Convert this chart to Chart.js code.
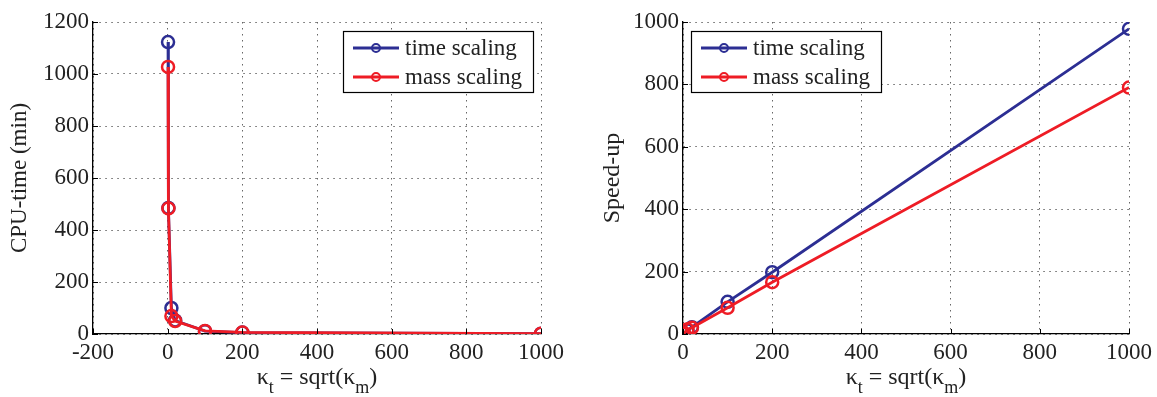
<!DOCTYPE html>
<html>
<head>
<meta charset="utf-8">
<script src="https://cdn.jsdelivr.net/npm/chart.js"></script>
<style>
  html, body { margin: 0; padding: 0; background: #fff; }
  .wrap { display: flex; width: 1157px; height: 397px; }
  .cell { position: relative; height: 397px; }
  #cellLeft { width: 578px; }
  #cellRight { width: 579px; }
</style>
</head>
<body>
<div class="wrap">
  <div class="cell" id="cellLeft"><canvas id="cpuChart"></canvas></div>
  <div class="cell" id="cellRight"><canvas id="speedChart"></canvas></div>
</div>
<script>
// ── Datos ─────────────────────────────────────────────────────────────────
const kappa = [1, 2, 10, 20, 100, 200, 1000];

const cpuTimeScaling = [1123, 485, 100, 52, 11, 5.6, 1.15];
const cpuMassScaling = [1027, 483, 69, 50, 12, 6.2, 1.3];

const speedTimeScaling = [1, 2.3, 11, 22, 103, 198, 978];
const speedMassScaling = [1, 2.1, 15, 20, 84, 166, 790];

const cpuXTicks = [-200, 0, 200, 400, 600, 800, 1000];
const cpuYTicks = [0, 200, 400, 600, 800, 1000, 1200];
const speedXTicks = [0, 200, 400, 600, 800, 1000];
const speedYTicks = [0, 200, 400, 600, 800, 1000];

const seriesLabels = ['time scaling', 'mass scaling'];
const BLUE = '#2c2e93';
const RED = '#ee1c25';
const FONT = '"Liberation Serif", "Times New Roman", serif';

const toPoints = (xs, ys) => xs.map((x, i) => ({ x, y: ys[i] }));

const makeDataset = (label, color, xs, ys, order) => ({
  label,
  data: toPoints(xs, ys),
  showLine: true,
  borderColor: color,
  borderWidth: 2.8,
  pointRadius: 6,
  pointHoverRadius: 6,
  pointBorderWidth: 2.5,
  pointBorderColor: color,
  pointBackgroundColor: 'rgba(0,0,0,0)',
  order
});

// ── Plugin: marcas interiores, leyenda con caja, título del eje x ─────────
const matlabLook = {
  id: 'matlabLook',
  afterDraw(chart, args, opts) {
    const { ctx, chartArea: a, scales } = chart;
    ctx.save();
    // ticks hacia dentro
    ctx.strokeStyle = '#000';
    ctx.lineWidth = 1;
    ctx.beginPath();
    scales.x.ticks.forEach(t => {
      const px = Math.round(scales.x.getPixelForValue(t.value)) + 0.5;
      ctx.moveTo(px, a.bottom);
      ctx.lineTo(px, a.bottom - 5);
    });
    scales.y.ticks.forEach(t => {
      const py = Math.round(scales.y.getPixelForValue(t.value)) + 0.5;
      ctx.moveTo(a.left, py);
      ctx.lineTo(a.left + 5, py);
    });
    ctx.stroke();

    // leyenda
    const lg = opts.legend;
    ctx.fillStyle = '#fff';
    ctx.fillRect(lg.x, lg.y, lg.w, lg.h);
    ctx.strokeStyle = '#000';
    ctx.lineWidth = 1.2;
    ctx.strokeRect(lg.x + 0.5, lg.y + 0.5, lg.w, lg.h);
    const entries = [0, 1].map(i => chart.data.datasets.find(d => d.label === seriesLabels[i]));
    entries.forEach((ds, i) => {
      const cy = lg.y + 17 + i * 29;
      ctx.strokeStyle = ds.borderColor;
      ctx.lineWidth = 2.8;
      ctx.beginPath();
      ctx.moveTo(lg.x + 10, cy);
      ctx.lineTo(lg.x + 56, cy);
      ctx.stroke();
      ctx.lineWidth = 2;
      ctx.beginPath();
      ctx.arc(lg.x + 33, cy, 4, 0, Math.PI * 2);
      ctx.stroke();
      ctx.fillStyle = '#222';
      ctx.font = `23px ${FONT}`;
      ctx.textBaseline = 'middle';
      ctx.textAlign = 'left';
      ctx.fillText(ds.label, lg.x + 62, cy + 1);
    });

    // título x con subíndices: κ_t = sqrt(κ_m)
    const cx = (a.left + a.right) / 2;
    const by = opts.titleY;
    const big = `24px ${FONT}`;
    const small = `18px ${FONT}`;
    const parts = [
      { t: '\u03BA', f: big, dy: 0 },
      { t: 't', f: small, dy: 9 },
      { t: ' = sqrt(\u03BA', f: big, dy: 0 },
      { t: 'm', f: small, dy: 9 },
      { t: ')', f: big, dy: 0 }
    ];
    let total = 0;
    parts.forEach(p => { ctx.font = p.f; p.w = ctx.measureText(p.t).width; total += p.w; });
    let x = cx - total / 2;
    ctx.fillStyle = '#222';
    ctx.textBaseline = 'alphabetic';
    ctx.textAlign = 'left';
    parts.forEach(p => {
      ctx.font = p.f;
      ctx.fillText(p.t, x, by + p.dy);
      x += p.w;
    });
    ctx.restore();
  }
};

const axisCommon = (min, max, tickValues) => ({
  type: 'linear',
  min,
  max,
  afterBuildTicks: (scale) => { scale.ticks = tickValues.map(v => ({ value: v })); },
  grid: { color: '#666', lineWidth: 1, drawTicks: false },
  border: { display: true, color: '#000', width: 1.3, dash: [1.5, 4.5] },
  ticks: {
    color: '#222',
    font: { family: FONT, size: 23 },
    callback: v => String(v)
  }
});

const buildChart = (canvasId, cfg) => {
  const ctx = document.getElementById(canvasId)?.getContext('2d');
  if (!ctx) return null;
  const xAxis = axisCommon(cfg.xMin, cfg.xMax, cfg.xTicks);
  xAxis.ticks.padding = 5;
  xAxis.ticks.maxRotation = 0;
  xAxis.afterFit = (s) => { s.height = 63; };
  const yAxis = axisCommon(cfg.yMin, cfg.yMax, cfg.yTicks);
  yAxis.ticks.padding = 4;
  yAxis.afterFit = (s) => { s.width = cfg.yWidth; };
  yAxis.title = {
    display: true,
    text: cfg.yTitle,
    color: '#222',
    font: { family: FONT, size: cfg.yTitleSize },
    padding: { top: cfg.yTitlePad, bottom: 0 }
  };

  return new Chart(ctx, {
    type: 'scatter',
    data: {
      datasets: [
        makeDataset(seriesLabels[0], BLUE, kappa, cfg.timeData, 1),
        makeDataset(seriesLabels[1], RED, kappa, cfg.massData, 0)
      ]
    },
    options: {
      responsive: true,
      maintainAspectRatio: false,
      animation: false,
      layout: { padding: { top: 22, right: cfg.padRight, left: 0, bottom: 0 } },
      plugins: {
        legend: { display: false },
        tooltip: { enabled: false },
        matlabLook: { legend: cfg.legend, titleY: 384 }
      },
      scales: { x: xAxis, y: yAxis }
    },
    plugins: [matlabLook]
  });
};

buildChart('cpuChart', {
  xMin: -200, xMax: 1000, xTicks: cpuXTicks,
  yMin: 0, yMax: 1200, yTicks: cpuYTicks,
  yWidth: 93, padRight: 37,
  yTitle: 'CPU-time (min)', yTitleSize: 23, yTitlePad: 6,
  timeData: cpuTimeScaling, massData: cpuMassScaling,
  legend: { x: 343, y: 31, w: 190, h: 61 }
});

buildChart('speedChart', {
  xMin: 0, xMax: 1000, xTicks: speedXTicks,
  yMin: 0, yMax: 1000, yTicks: speedYTicks,
  yWidth: 105, padRight: 26,
  yTitle: 'Speed-up', yTitleSize: 24, yTitlePad: 20,
  timeData: speedTimeScaling, massData: speedMassScaling,
  legend: { x: 113, y: 31, w: 190, h: 61 }
});
</script>
</body>
</html>
